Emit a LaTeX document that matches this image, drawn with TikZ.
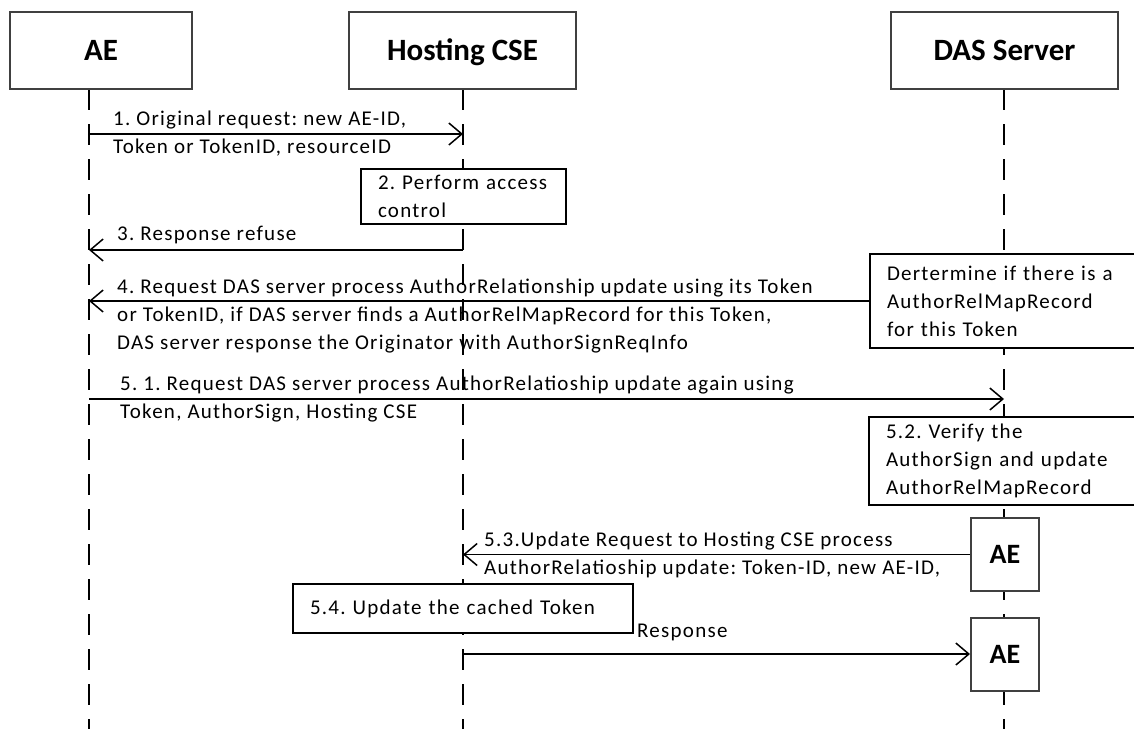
\documentclass[tikz,border=0pt]{standalone}
\usepackage{fontspec}
\setmainfont{Carlito}[LetterSpace=6]
\usetikzlibrary{arrows.meta}

\tikzset{
  party/.style={draw=black!75,line width=2pt,fill=white,font=\fontsize{31}{36}\selectfont\bfseries\addfontfeatures{LetterSpace=0},inner sep=0pt,text height=20pt,text depth=0pt},
  subae/.style={party,minimum width=68pt,minimum height=73pt,font=\fontsize{28}{32}\selectfont\bfseries\addfontfeatures{LetterSpace=0},text height=18pt},
  lifeline/.style={line width=2pt,dash pattern=on 21pt off 14pt},
  msg/.style={line width=1.5pt,-{Straight Barb[length=13pt,width=22pt,line width=1.5pt]}},
  msgtext/.style={align=left,inner sep=0pt,anchor=west},
  notebox/.style={draw,line width=2pt,fill=white,align=left,anchor=north west,inner ysep=0pt,inner xsep=17pt}
}

\begin{document}
\frenchspacing
\begin{tikzpicture}[x=1pt,y=-1pt,font=\fontsize{21}{28}\selectfont]
  \useasboundingbox (0,0) rectangle (1134,729);
  \clip (0,0) rectangle (1134,729);

  % lifeline ends
  \coordinate (aeL) at (89,89);
  \coordinate (cseL) at (463,89);
  \coordinate (dasL) at (1004,89);
  \draw[lifeline] (aeL) -- (aeL |- 0,729);
  \draw[lifeline] (cseL) -- (cseL |- 0,729);
  \draw[lifeline] (dasL) -- (dasL |- 0,729);

  \node[party,minimum width=182pt,minimum height=77pt] (ae) at (101,50.5) {AE};
  \node[party,minimum width=227pt,minimum height=77pt] (cse) at (462.5,50.5) {Hosting CSE};
  \node[party,minimum width=227pt,minimum height=77pt] (das) at (1004.5,50.5) {DAS Server};

  % 1
  \draw[msg] (aeL |- 0,134) -- (cseL |- 0,134);
  \node[msgtext] (t1) at (113,134) {1. Original request: new AE-ID,\\Token or TokenID, resourceID};

  % 2
  \node[notebox,text width=171pt,minimum height=55pt] (acc) at (360,168) {2. Perform access\\control};

  % 3
  \draw[msg] (cseL |- 0,250) -- (aeL |- 0,250);
  \node[msgtext] (t3) at (117,235) {3. Response refuse};

  % 4
  \node[notebox,text width=260pt,minimum height=94pt] (chk) at (869,253)
    {Dertermine if there is a\\AuthorRelMapRecord\\for this Token};
  \draw[msg,{Straight Barb[length=13pt,width=22pt,line width=1.5pt]}-] (aeL |- chk.west) -- (chk.west);
  \node[msgtext] (t4) at (117,316.5) {4. Request DAS server process AuthorRelationship update using its Token\\or TokenID, if DAS server finds a AuthorRelMapRecord for this Token,\\DAS server response the Originator with AuthorSignReqInfo};

  % 5.1
  \draw[msg] (aeL |- 0,399) -- (dasL |- 0,399);
  \node[msgtext] (t51) at (120,399) {5. 1. Request DAS server process AuthorRelatioship update again using\\Token, AuthorSign, Hosting CSE};

  % 5.2
  \node[notebox,text width=260pt,minimum height=88pt] (vfy) at (868,416)
    {5.2. Verify the\\AuthorSign and update\\AuthorRelMapRecord};

  % 5.3
  \node[subae] (ae1) at (1005,554.5) {AE};
  \draw[msg] (ae1.west) -- (cseL |- ae1.west);
  \node[msgtext] (t53) at (484,555) {5.3.Update Request to Hosting CSE process\\AuthorRelatioship update: Token-ID, new AE-ID,};

  % 5.4
  \node[notebox,text width=306pt,minimum height=49pt] (upd) at (292,583) {5.4. Update the cached Token};

  % response
  \node[subae] (ae2) at (1005,654) {AE};
  \draw[msg] (cseL |- ae2.west) -- (ae2.west);
  \node[msgtext] (tr) at (637,632) {Response};
\end{tikzpicture}
\end{document}
